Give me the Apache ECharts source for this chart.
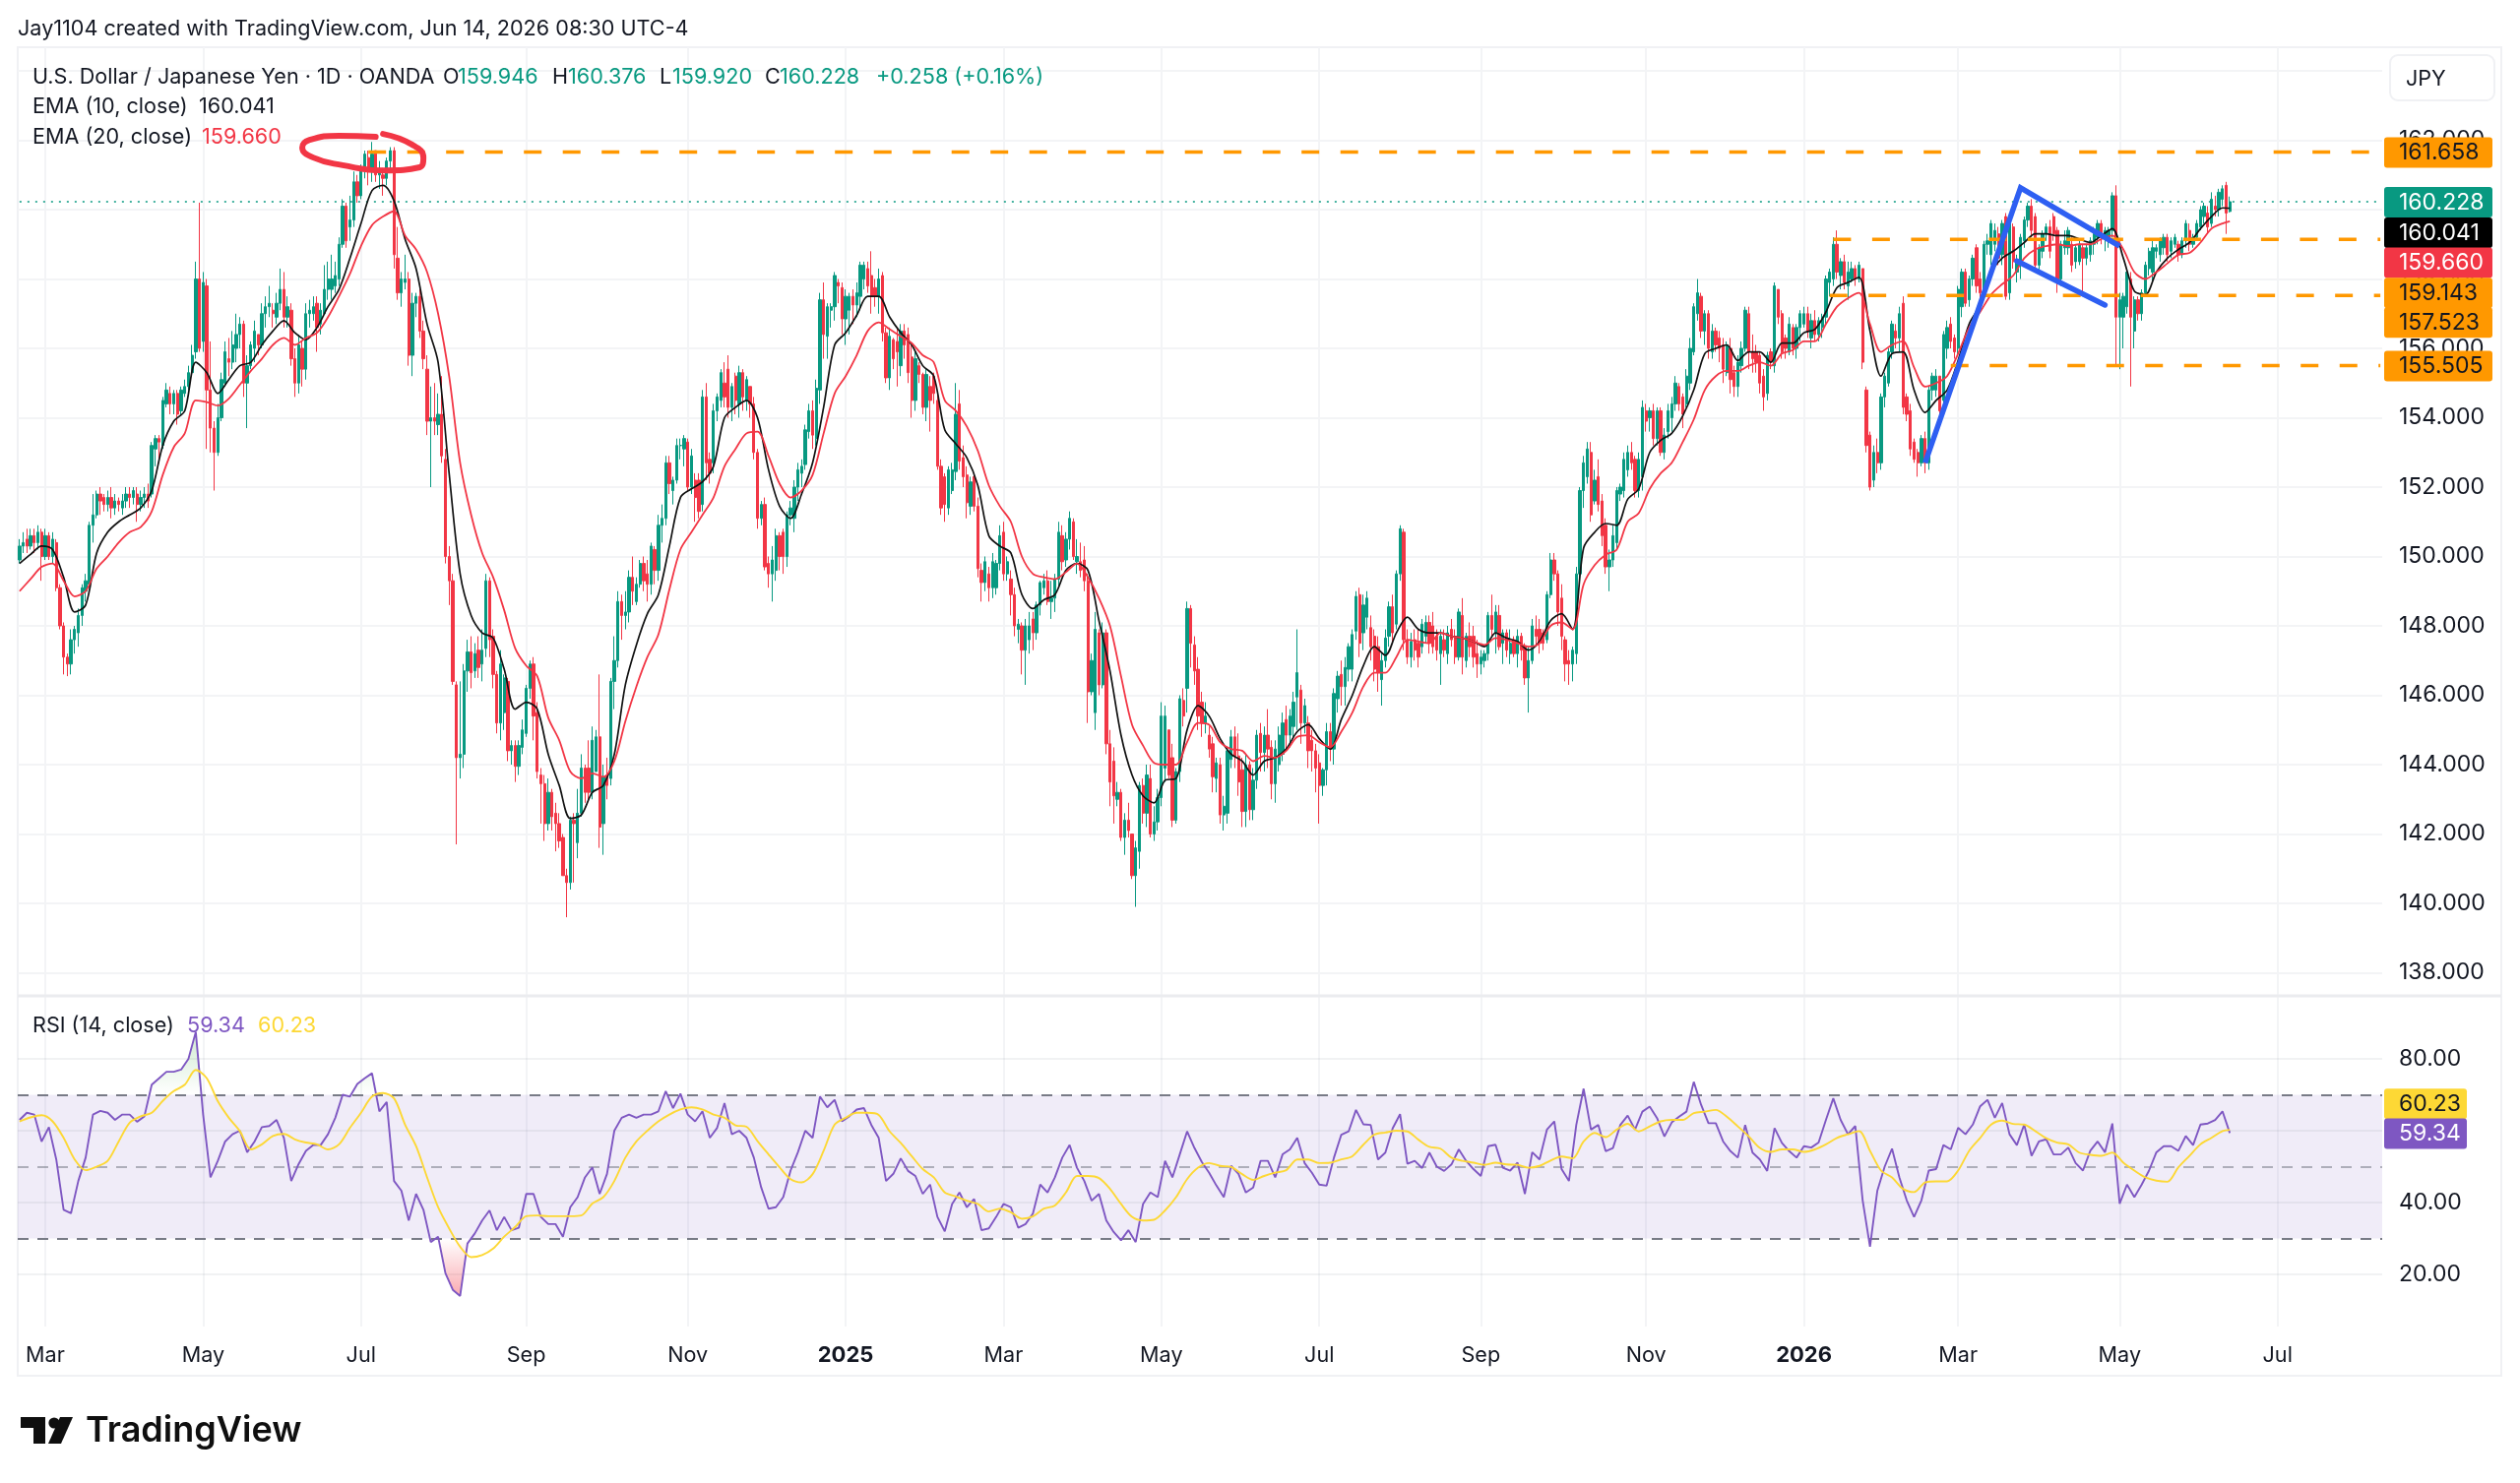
<!DOCTYPE html>
<html><head><meta charset="utf-8"><style>html,body{margin:0;padding:0;background:#fff}#c{width:2560px;height:1507px}</style>
<script src="https://cdn.jsdelivr.net/npm/echarts@6/dist/echarts.min.js"></script></head><body><div id="c"></div>
<script>
const firstDate='2024-02-21', categoryCount=644;
const tickDates=['2024-03-01','2024-05-01','2024-07-01','2024-09-02','2024-11-01','2025-01-01','2025-03-03','2025-05-01','2025-07-01','2025-09-01','2025-11-03','2026-01-01','2026-03-02','2026-05-01','2026-07-01'];
const tickLabels=['Mar','May','Jul','Sep','Nov','2025','Mar','May','Jul','Sep','Nov','2026','Mar','May','Jul'];
const closes=[
150.3,150.4,150.3,150.6,150.4,150.7,150.0,150.6,150.0,150.5,
149.1,148.0,147.1,146.9,147.6,147.9,148.3,149.1,149.3,150.9,
151.2,151.8,151.6,151.5,151.7,151.4,151.6,151.5,151.6,151.8,
151.7,151.9,151.5,151.7,151.8,151.6,153.2,153.4,153.3,154.5,
154.8,154.4,154.7,154.1,154.8,154.9,155.3,155.8,158.0,156.0,
157.9,154.8,153.7,153.0,154.0,155.1,155.9,155.6,156.1,156.4,
156.7,155.0,155.5,156.1,156.5,156.1,157.0,157.2,157.3,157.0,
157.3,157.7,156.9,157.2,155.7,155.0,156.1,155.4,157.0,157.1,
157.2,156.6,157.1,157.7,158.0,158.0,158.1,159.0,160.1,159.1,
159.7,160.8,160.4,161.2,161.6,161.1,161.6,161.0,161.1,160.9,
161.4,161.7,158.7,157.6,158.0,158.0,155.8,157.3,157.5,156.5,
155.7,153.9,154.0,153.9,154.1,152.9,150.0,149.3,146.4,144.2,
144.3,146.7,147.25,146.65,147.2,146.8,147.3,149.3,147.6,146.6,
145.2,146.9,146.5,144.4,144.55,143.95,144.55,145.0,146.2,146.9,
145.4,143.8,143.45,142.3,143.2,142.5,142.3,141.8,140.8,140.6,
142.4,142.3,142.6,143.9,143.2,143.2,144.7,144.8,142.2,143.65,
143.4,146.4,147.0,148.7,148.3,148.4,149.4,149.0,149.2,149.8,
149.3,149.2,150.3,149.6,150.9,151.1,152.7,152.1,152.2,153.2,
153.2,153.4,152.0,152.9,151.7,151.3,154.6,152.7,152.4,154.2,
154.6,155.3,154.6,154.3,154.9,154.5,155.3,154.6,155.1,154.4,
153.0,151.1,151.5,149.7,149.5,149.9,150.6,150.0,150.0,151.2,
151.4,152.0,152.5,152.6,153.65,154.2,153.5,154.85,157.4,156.4,
157.2,157.2,158.1,157.8,156.85,157.5,157.5,157.25,157.6,158.4,
158.4,157.8,157.5,157.5,158.0,156.45,155.15,156.35,155.7,155.9,
156.5,156.1,155.3,154.5,155.7,155.25,154.3,155.25,154.5,154.7,
152.6,151.4,151.5,152.5,152.5,154.1,152.75,152.3,151.55,152.15,
151.45,149.65,149.25,149.85,149.1,149.85,149.8,150.6,149.5,149.85,
148.9,148.0,148.05,147.3,148.0,148.0,147.8,148.6,149.25,149.3,
148.7,148.8,149.35,150.7,149.85,150.5,151.1,150.0,150.0,149.6,
149.3,146.1,147.0,147.9,146.3,147.8,144.6,143.5,143.1,143.2,
141.9,142.4,142.1,140.8,141.6,143.4,142.6,143.7,142.0,142.35,
143.05,145.4,145.4,143.7,142.4,143.8,145.9,145.4,148.5,147.5,
146.7,145.4,145.2,145.4,144.45,143.65,144.05,142.55,142.8,144.4,
144.8,144.25,143.5,142.65,144.0,142.7,143.55,144.85,144.35,144.85,
144.45,143.45,144.45,144.85,145.2,144.85,145.4,145.8,146.65,145.2,
145.7,144.4,144.4,143.9,143.4,143.85,144.95,144.45,146.05,146.55,
146.25,146.8,147.4,147.75,148.85,147.5,148.6,148.8,147.4,146.75,
146.65,147.0,147.65,148.55,147.8,149.5,150.8,147.6,147.1,147.55,
147.3,147.1,148.05,148.1,147.5,147.4,147.3,147.7,147.3,147.8,
147.6,147.1,148.4,147.1,147.7,147.4,147.1,146.9,147.1,147.2,
148.3,147.9,148.4,147.4,147.8,147.3,147.5,147.2,147.7,147.3,
146.5,147.0,148.0,147.7,147.5,147.5,148.9,149.9,149.5,148.4,
147.7,146.9,146.9,147.3,149.5,151.9,152.7,153.1,151.2,152.2,
151.5,150.6,149.7,149.9,150.6,151.9,152.0,152.8,153.0,152.7,
151.9,152.8,154.3,153.9,154.2,153.4,154.2,153.0,153.5,154.2,
154.4,155.0,154.4,154.1,155.2,156.0,157.2,157.6,156.5,157.0,
156.0,156.5,156.1,156.0,155.4,156.1,155.1,154.9,155.6,156.0,
157.1,155.9,155.7,155.6,155.0,154.6,155.8,155.6,157.8,156.9,
155.9,156.0,156.7,156.0,156.6,157.0,157.0,156.5,156.8,156.4,
156.8,156.9,158.0,158.2,159.0,158.2,158.5,157.9,158.2,158.3,
158.0,158.4,155.6,153.2,152.0,153.0,152.7,154.6,155.2,155.9,
156.7,156.3,157.0,154.3,154.1,153.1,152.8,152.7,153.4,152.7,
154.8,155.2,155.2,154.2,156.4,156.6,156.2,155.9,157.7,158.2,
157.3,158.0,158.6,157.8,157.6,159.0,159.1,159.6,159.4,158.6,
159.6,157.5,159.7,158.5,158.5,159.2,159.7,160.1,159.4,158.4,
158.9,159.3,159.5,158.8,159.3,157.9,159.0,159.1,159.4,158.4,
158.9,159.0,158.6,158.9,159.1,159.3,159.6,159.2,159.4,159.4,
160.4,156.9,157.4,157.5,158.2,156.9,157.4,157.0,157.6,158.4,
158.8,158.9,158.9,159.1,159.2,158.7,159.1,159.2,158.7,159.1,
159.6,159.0,159.2,159.6,160.0,160.1,159.5,160.3,160.0,160.5,
160.6,159.9,160.228];
const opens=[
149.9,150.3,150.5,150.3,150.6,150.4,150.7,150.0,150.6,150.0,
150.4,149.1,148.0,147.1,146.9,147.6,147.8,148.3,149.0,149.2,
150.9,151.2,151.8,151.7,151.5,151.7,151.4,151.6,151.4,151.6,
151.8,151.7,151.8,151.5,151.7,151.8,151.8,153.1,153.4,153.2,
154.4,154.7,154.4,154.7,154.2,154.7,154.9,155.3,155.9,158.0,
156.2,157.8,154.8,153.7,153.0,154.0,155.0,155.7,155.6,156.0,
156.4,156.7,155.0,155.5,156.0,156.4,156.1,157.0,157.2,157.1,
156.9,157.3,157.7,156.9,157.1,155.7,155.0,156.0,155.4,157.0,
157.0,157.3,156.7,157.0,157.7,157.7,157.8,158.0,159.0,160.1,
159.5,159.7,160.8,160.4,161.2,161.5,161.1,161.7,161.0,161.0,
160.9,161.4,161.7,158.6,157.6,157.9,158.0,155.8,157.3,157.5,
156.5,155.4,153.9,154.0,153.8,154.1,152.8,150.0,149.3,146.3,
144.2,144.3,146.7,147.25,146.7,147.3,146.9,147.35,149.3,147.7,
146.6,145.2,145.5,146.4,144.4,144.55,143.95,144.5,144.9,146.2,
146.9,145.5,143.7,143.45,142.3,143.2,142.6,142.3,141.9,140.8,
140.6,142.4,141.75,142.6,143.9,143.9,143.2,143.8,144.8,142.3,
143.65,143.6,146.4,147.0,148.7,148.3,148.4,149.4,148.7,149.2,
149.8,149.5,149.2,150.2,149.6,150.9,151.1,152.7,151.9,152.2,
153.2,153.1,153.3,152.0,152.2,152.2,151.5,154.6,152.8,152.7,
154.2,154.5,155.0,155.4,154.3,155.2,154.4,155.3,154.5,154.9,
154.4,153.0,151.1,151.5,149.8,149.5,149.6,150.6,150.7,150.0,
151.2,151.1,152.0,152.4,152.65,153.6,154.2,153.4,154.8,157.4,
156.35,157.1,157.2,157.9,157.75,156.85,157.1,157.5,157.25,157.5,
158.0,158.3,158.1,157.75,157.5,158.1,156.45,155.15,156.25,156.2,
155.5,156.5,156.4,155.75,154.5,155.5,155.25,154.3,154.9,155.2,
154.5,152.6,152.3,151.4,151.9,152.45,154.4,152.85,152.35,151.45,
152.3,151.45,149.6,149.25,149.5,149.1,149.1,149.8,150.7,149.5,
149.35,148.9,147.9,148.0,147.3,147.6,148.2,147.8,148.6,149.1,
149.3,148.7,148.8,149.35,150.6,149.9,150.5,151.0,149.85,149.85,
149.9,149.3,146.1,145.5,147.8,146.3,147.8,144.6,144.1,143.0,
143.2,141.9,142.4,142.0,140.8,141.5,143.4,142.6,143.6,142.0,
142.35,143.05,143.9,145.0,144.2,142.4,143.8,145.85,146.2,148.5,
147.45,146.75,145.8,145.2,144.85,144.6,143.6,144.0,142.55,142.6,
144.15,144.8,144.25,143.85,142.65,144.0,142.7,143.55,144.9,144.35,
144.85,144.5,143.45,144.0,144.3,145.3,144.85,145.1,145.95,146.15,
145.2,145.2,144.7,144.4,144.05,143.4,143.85,144.95,144.45,145.9,
146.6,146.25,146.75,146.75,147.85,148.9,147.8,148.25,147.95,147.7,
147.4,146.45,147.0,147.7,148.55,148.05,149.5,150.7,147.6,147.1,
147.6,147.5,147.4,147.7,148.1,148.0,147.7,147.2,147.6,147.2,
147.9,147.7,147.1,148.3,147.0,147.7,147.7,147.2,146.9,147.0,
147.2,148.3,147.8,148.3,147.5,147.8,147.2,147.6,147.2,147.7,
147.4,146.5,147.0,147.9,147.9,147.8,147.6,148.9,149.9,149.5,
148.8,147.6,147.0,146.9,147.2,149.5,151.9,152.3,153.0,151.6,
152.3,151.6,150.9,149.7,149.9,150.4,151.8,151.9,152.5,153.0,
152.8,151.9,152.3,154.2,154.0,154.2,153.4,154.2,153.0,153.6,
154.0,154.4,154.9,154.6,154.4,155.0,155.9,157.0,157.5,156.5,
157.0,155.9,156.5,156.3,156.1,155.3,156.0,155.3,154.9,155.5,
156.0,157.0,155.9,155.9,155.8,155.2,154.7,155.9,155.5,157.7,
157.0,156.3,155.9,156.6,156.0,156.6,156.7,157.0,156.3,156.8,
156.4,156.6,156.9,157.9,158.0,159.0,158.1,158.5,157.8,158.0,
158.3,158.0,158.3,154.8,153.5,152.2,153.0,152.7,154.6,155.0,
155.9,156.5,156.3,157.3,154.6,154.2,153.3,153.0,152.7,153.4,
152.7,154.8,154.8,155.2,154.5,156.0,156.7,156.3,156.0,157.2,
158.2,157.4,158.0,158.9,158.0,157.7,159.0,158.7,159.0,159.3,
158.7,159.8,157.6,159.5,158.2,158.4,159.1,159.7,160.1,159.8,
158.4,158.8,159.3,159.5,159.8,159.4,158.0,158.9,158.9,159.0,
158.5,158.5,158.9,158.6,158.7,159.0,159.2,159.6,159.2,159.2,
159.4,160.4,156.9,156.9,157.2,158.0,156.5,157.4,157.0,157.6,
158.3,158.2,158.8,158.7,158.9,159.2,158.8,159.0,159.0,158.7,
159.1,159.4,159.0,159.2,159.5,159.8,159.9,159.6,160.1,160.0,
160.3,160.7,159.946];
const highs=[
150.5,150.7,150.8,150.8,150.8,150.9,150.8,150.8,150.7,150.7,
150.5,149.2,148.1,147.2,147.9,148.0,148.5,149.2,149.5,151.0,
151.8,151.9,152.0,151.8,151.9,152.0,151.8,151.7,151.8,152.0,
152.0,152.0,152.0,151.9,152.0,152.1,153.3,153.5,153.5,154.6,
155.0,154.9,154.8,154.8,154.9,155.1,155.5,156.1,158.5,160.2,
158.2,158.0,156.2,153.9,154.4,155.3,156.2,156.3,156.5,157.0,
156.9,156.8,155.8,156.2,156.8,156.4,157.3,157.5,157.8,157.3,
157.6,158.3,158.2,157.5,157.3,156.0,156.4,156.2,157.3,157.4,
157.5,157.5,157.3,158.4,158.5,158.7,158.5,159.2,160.3,160.2,
160.4,161.1,161.0,161.3,161.7,161.7,161.95,161.7,161.4,161.2,
161.5,161.8,161.8,159.5,158.2,158.7,158.2,157.6,157.6,157.7,
156.8,155.8,154.9,155.0,154.7,155.2,153.1,150.3,149.5,146.4,
146.4,146.9,147.6,147.7,147.5,147.7,147.9,149.5,149.4,147.9,
146.7,147.3,146.6,146.5,144.7,144.7,144.7,145.3,146.3,147.0,
147.1,145.8,143.9,143.7,143.6,143.3,142.9,142.6,142.0,141.0,
142.5,142.6,143.3,144.3,144.0,144.7,145.1,145.0,146.6,144.0,
144.2,146.5,147.7,149.0,148.9,149.0,149.6,150.0,149.4,149.9,
150.0,149.9,150.4,150.3,151.2,151.5,152.9,152.9,152.3,153.4,
153.4,153.5,153.4,153.1,152.4,152.4,154.8,155.0,153.0,154.4,
154.7,155.4,155.6,155.8,155.0,155.3,155.5,155.4,155.2,154.9,
154.6,153.1,151.6,151.7,150.0,150.3,150.8,150.7,150.8,151.3,
151.6,152.2,152.7,152.8,153.8,154.4,154.5,155.1,157.6,157.9,
157.3,157.3,158.2,158.0,157.9,157.7,157.6,157.7,157.9,158.5,
158.5,158.5,158.8,158.0,158.3,158.2,156.6,156.6,156.3,156.6,
156.7,156.7,156.6,156.1,155.9,155.6,155.3,155.4,155.2,155.3,
154.7,152.8,152.4,152.6,152.7,155.0,154.8,153.2,152.6,152.3,
152.4,151.7,149.8,150.0,149.7,150.1,149.9,150.9,151.0,150.0,
149.6,149.1,148.2,148.1,148.2,148.4,148.4,148.7,149.3,149.5,
149.6,149.3,149.5,151.0,150.9,150.7,151.3,151.1,150.5,150.4,
150.3,149.5,147.2,148.4,147.9,148.1,147.9,145.0,144.5,143.5,
143.3,142.6,142.9,142.0,141.8,143.5,143.6,144.0,144.0,142.8,
143.3,145.8,145.7,145.0,144.6,143.9,146.0,146.2,148.7,148.6,
147.7,147.1,146.1,145.8,145.1,144.8,144.2,144.2,143.1,144.5,
145.0,145.1,144.9,144.2,144.3,144.1,143.9,145.0,145.2,145.1,
145.6,144.7,144.7,145.1,145.5,145.7,145.6,146.1,147.9,146.3,
145.9,145.4,145.0,144.6,144.3,143.9,145.2,145.2,146.2,146.7,
147.0,147.1,147.5,147.9,149.0,149.1,148.9,149.0,148.3,147.9,
147.7,147.2,147.9,148.7,148.9,149.6,150.9,150.8,147.9,147.8,
147.9,147.9,148.2,148.3,148.3,148.4,147.9,147.9,147.9,148.0,
148.2,147.9,148.5,148.8,147.8,148.1,148.0,147.6,147.3,147.3,
148.4,148.9,148.6,148.6,147.9,147.9,147.9,147.7,147.9,147.8,
147.5,147.4,148.2,148.3,148.2,147.9,149.0,150.1,150.1,149.6,
149.2,147.7,147.3,147.4,149.7,152.0,152.9,153.3,153.3,152.5,
152.8,151.8,151.1,150.2,150.9,152.0,152.1,153.0,153.2,153.3,
152.9,153.0,154.5,154.4,154.3,154.4,154.3,154.3,153.7,154.4,
154.6,155.2,155.0,154.7,155.4,156.3,157.3,158.0,157.6,157.1,
157.1,156.7,156.6,156.5,156.3,156.2,156.3,155.5,155.8,156.2,
157.2,157.2,156.4,156.1,155.9,155.4,155.9,156.0,157.9,157.7,
157.1,156.4,156.9,156.7,156.7,157.1,157.2,157.2,157.0,157.1,
156.9,157.0,158.1,158.3,159.2,159.4,158.6,158.7,158.5,158.5,
158.4,158.5,158.3,154.9,153.6,153.2,153.4,154.7,155.3,156.0,
156.8,156.7,157.2,157.5,154.7,154.4,153.4,153.1,153.5,153.6,
154.9,155.3,155.4,155.2,156.5,156.8,156.9,156.4,157.8,158.3,
158.3,158.1,158.7,159.0,158.2,159.1,159.3,159.7,159.6,159.5,
159.7,159.9,159.8,159.6,158.7,159.3,159.8,160.2,160.3,159.9,
159.0,159.4,159.6,159.7,159.9,159.5,159.1,159.4,159.5,159.2,
159.0,159.1,159.0,159.0,159.2,159.5,159.7,159.7,159.5,159.5,
160.5,160.7,157.6,157.6,158.3,158.2,157.5,157.5,157.7,158.5,
158.9,159.1,159.0,159.2,159.3,159.3,159.2,159.3,159.1,159.2,
159.7,159.6,159.3,159.7,160.1,160.2,160.1,160.5,160.4,160.6,
160.7,160.8,160.376];
const lows=[
149.8,150.1,150.1,150.2,150.1,150.2,149.3,149.9,149.9,149.8,
149.0,147.9,146.6,146.55,146.6,147.2,147.4,148.0,148.7,149.1,
150.4,151.1,151.2,151.3,151.3,151.1,151.2,151.3,151.2,151.4,
151.4,151.5,151.0,151.3,151.4,151.4,151.7,152.6,152.7,153.1,
154.3,154.1,154.1,153.8,154.1,154.6,154.8,155.2,155.7,155.9,
155.9,153.1,153.0,151.9,152.9,153.9,154.9,155.2,155.4,155.6,
156.0,154.6,153.7,155.4,155.6,155.8,156.0,156.6,156.9,156.6,
156.7,157.1,156.6,156.6,155.5,154.6,154.7,154.9,155.1,156.6,
156.8,155.9,156.4,157.0,157.4,157.4,157.6,157.8,158.9,158.9,
159.1,159.5,160.2,160.3,160.9,160.7,160.8,160.8,160.6,160.4,
160.7,161.1,158.3,157.4,157.2,157.7,155.5,155.2,156.9,156.3,
155.4,153.5,152.0,153.5,153.5,152.7,149.8,148.6,146.3,141.7,
143.6,143.9,146.1,146.2,146.5,146.5,146.4,147.1,147.1,146.2,
144.9,144.7,145.0,144.1,144.0,143.5,143.7,144.3,144.8,145.9,
144.7,143.6,142.3,141.8,142.1,142.1,141.5,141.6,140.8,139.6,
140.4,140.6,141.3,142.5,142.9,143.0,143.0,144.1,141.6,141.4,
143.0,143.4,145.6,146.8,147.6,147.9,148.1,148.6,148.6,149.1,
149.0,148.7,148.9,149.2,149.3,150.4,150.9,151.8,151.5,152.1,
152.8,152.6,151.9,151.8,151.0,151.1,151.3,152.2,152.1,152.4,
153.9,154.3,154.3,154.0,153.9,154.1,154.0,154.2,154.2,154.0,
152.8,150.8,150.9,149.6,149.1,148.7,149.3,149.6,149.5,149.7,
150.9,150.7,151.6,152.0,152.5,153.4,153.1,153.2,154.4,155.7,
155.7,156.6,156.8,157.3,156.4,156.1,156.4,156.7,156.9,157.1,
157.7,157.6,157.0,157.2,157.0,156.2,155.0,154.8,155.4,154.9,
155.2,155.7,155.0,154.0,154.2,155.0,154.1,153.9,153.6,154.4,
152.5,151.2,151.0,151.2,151.8,152.2,152.5,152.0,151.1,151.2,
151.3,149.4,148.7,149.0,148.7,148.8,148.9,149.6,149.3,149.3,
148.3,147.7,147.5,146.6,146.3,147.2,147.3,147.6,148.3,148.9,
148.6,148.2,148.4,149.1,149.6,149.7,150.2,149.9,149.5,149.4,
149.0,145.2,146.0,145.0,146.0,146.2,144.3,142.8,142.3,142.8,
141.8,141.4,141.9,140.7,139.9,141.0,142.3,142.2,141.9,141.8,
142.1,142.8,143.5,143.6,142.2,142.3,143.5,145.1,145.5,146.8,
146.3,145.0,144.8,144.9,144.2,143.2,143.2,142.3,142.1,142.3,
143.9,143.9,143.1,142.2,142.2,142.4,142.4,143.3,143.8,143.8,
143.9,143.0,142.9,143.8,144.1,144.4,144.5,144.8,145.0,144.6,
144.9,143.9,143.8,143.2,142.3,143.1,143.4,144.1,144.0,145.5,
145.7,145.7,146.4,146.4,147.6,147.1,147.3,147.9,147.0,146.4,
146.1,145.7,146.8,147.4,147.5,147.9,149.3,147.3,146.9,146.8,
147.0,146.8,147.2,147.5,147.2,147.2,147.0,146.3,147.1,146.9,
147.4,146.9,147.0,146.6,146.8,147.1,146.8,146.5,146.6,146.8,
147.0,147.7,147.2,147.3,146.9,147.1,146.9,147.1,146.8,147.0,
146.3,145.5,146.9,147.4,147.2,147.3,147.5,148.8,149.3,148.0,
147.3,146.4,146.3,146.4,146.9,149.3,151.4,152.1,151.0,151.5,
151.3,150.3,149.5,149.0,149.7,150.2,151.6,151.7,152.3,152.5,
151.7,151.7,151.9,153.6,153.6,153.2,153.2,152.9,152.8,153.4,
153.6,154.2,154.2,153.7,154.3,154.8,155.8,156.8,156.3,156.1,
155.7,155.7,155.9,155.6,155.0,155.2,154.7,154.6,154.6,155.3,
155.9,155.4,155.3,155.3,154.7,154.2,154.5,155.4,155.3,156.7,
155.7,155.7,155.8,155.8,155.7,156.2,156.6,156.3,156.0,156.2,
156.2,156.3,156.7,157.5,157.8,158.0,157.7,157.7,157.4,157.9,
157.8,157.9,155.4,153.0,151.9,152.0,152.4,152.5,154.3,154.9,
155.7,156.0,155.9,154.1,153.9,152.9,152.7,152.3,152.6,152.4,
152.5,154.5,154.6,154.0,154.3,155.7,156.0,155.7,155.8,156.9,
157.2,157.2,157.8,157.6,157.4,157.5,158.7,158.4,158.8,158.4,
158.4,157.4,157.4,158.3,157.9,158.0,158.9,159.5,159.2,158.2,
158.2,158.6,159.1,158.6,159.1,157.6,157.8,158.7,158.7,158.2,
158.3,158.4,157.5,158.4,158.5,158.7,159.0,159.0,158.8,158.9,
159.2,155.5,155.4,156.0,157.0,154.9,156.0,156.8,156.8,157.5,
158.1,157.9,158.6,158.5,158.7,158.5,158.6,158.9,158.5,158.6,
158.9,158.8,158.9,159.1,159.4,159.6,159.3,159.5,159.8,159.8,
160.1,159.3,159.920];
const ema10Step=3;
const ema10=[149.8,150.06,150.3,150.2,149.4,148.4,148.6,150.1,150.7,151.0,151.2,151.4,151.9,153.2,153.9,154.2,155.6,155.3,154.7,155.1,155.5,155.6,156.1,156.5,156.8,156.45,156.25,156.6,157.2,157.7,158.6,159.6,160.55,160.7,160.25,159.15,158.3,156.7,155.6,152.4,149.5,148.3,147.8,147.65,146.75,145.6,145.8,145.6,144.3,143.4,142.45,142.55,143.2,143.4,144.3,146.3,147.45,148.35,148.9,150.3,151.7,151.95,152.15,152.6,154.0,154.3,154.5,154.0,152.5,151.45,151.1,151.8,152.7,154.3,156.1,156.45,156.95,157.5,157.5,156.9,156.45,156.1,155.5,155.2,153.65,153.25,152.85,152.05,150.6,150.3,150.1,148.9,148.5,148.75,148.9,149.6,149.8,149.6,148.15,146.7,144.85,143.7,143.1,142.9,143.55,143.6,145.0,145.7,145.4,144.75,144.3,144.1,143.7,144.1,144.2,144.45,144.95,145.15,144.75,144.45,145.3,146.0,146.85,147.4,147.15,147.8,148.25,147.9,147.8,147.8,147.7,147.65,147.55,147.4,147.8,147.65,147.55,147.3,147.55,148.15,148.35,147.9,150.25,150.7,150.95,150.9,151.65,151.95,153.0,153.35,153.55,154.05,154.8,155.85,156.0,156.1,155.65,155.9,155.9,155.6,156.15,156.15,156.45,156.55,157.05,157.75,157.9,158.05,156.5,155.2,155.85,155.9,154.8,154.15,154.5,154.8,155.65,156.7,157.25,158.2,158.6,158.8,159.05,159.3,159.3,159.25,159.25,159.15,159.05,159.25,159.45,158.6,157.65,157.55,158.2,158.6,158.85,159.05,159.45,159.8,160.05];
const ema10Last=160.041;
const ema20=[149.0,149.35,149.7,149.8,149.3,148.85,149.0,149.65,150.0,150.4,150.7,150.85,151.3,152.35,153.15,153.55,154.5,154.45,154.35,154.55,154.95,155.35,155.7,156.1,156.3,156.1,156.3,156.45,156.9,157.5,158.15,158.95,159.55,159.8,159.95,159.25,158.85,158.2,157.0,155.2,152.7,151.2,150.1,149.4,148.45,147.35,146.85,146.55,145.35,144.7,143.8,143.6,143.75,143.65,144.1,145.25,146.25,147.1,147.75,149.05,150.2,150.7,151.2,151.7,152.6,153.1,153.55,153.6,152.9,152.1,151.7,151.9,152.35,153.55,154.7,155.2,155.8,156.5,156.75,156.55,156.35,156.15,155.8,155.6,154.5,154.2,153.75,153.05,152.05,151.45,151.0,150.0,149.5,149.4,149.35,149.55,149.8,149.4,148.8,148.0,146.55,145.15,144.55,144.05,144.0,144.0,144.65,145.2,145.15,144.65,144.45,144.4,144.1,144.25,144.2,144.4,144.8,144.85,144.65,144.5,144.95,145.5,146.25,146.65,146.65,147.1,147.6,147.55,147.5,147.8,147.7,147.65,147.55,147.45,147.65,147.6,147.5,147.4,147.5,148.0,148.1,147.9,149.2,149.75,150.05,150.2,151.0,151.25,151.95,152.4,152.7,153.3,153.95,154.8,155.2,155.35,155.35,155.5,155.6,155.5,155.85,155.95,156.2,156.2,156.7,157.2,157.45,157.6,156.7,155.9,156.1,156.2,155.45,154.9,155.0,155.2,155.85,156.6,157.05,157.55,157.85,158.1,158.6,158.85,158.95,159.0,158.95,159.0,159.0,159.15,159.25,158.85,158.2,158.0,158.2,158.45,158.7,158.75,159.05,159.45,159.6];
const ema20Last=159.66;
const rsiStep=2;
const rsi=[63,65,64.5,57,61,52,38,37,46,52.5,64.5,65.5,65,63,64.5,64.5,62.5,64,72.8,74.6,76.4,76.4,77,80,87.5,64.5,47,51.6,57,59,60,54,57,61,61.3,63,58,46,50.7,54.4,56,56,59,63.6,70,69.5,73,74.6,76,65.4,68,46,43.3,35,42.4,38,29,30.5,20.3,15.7,14,28.6,31.4,35,37.8,32.3,36,32.3,33,42.4,42.4,36,34,34,30.5,38.7,41.5,47,49.8,42.4,48,60,63.6,64.5,63.6,64.5,64.5,65.4,71,66.3,70.3,64.5,62.6,65.4,58,60.8,67.7,59,60,58,52.5,44.2,38.3,38.7,41.5,48.9,54,60,58,69.5,66.5,68.6,62.6,64,65.9,66.3,61.6,58,46,48,52.3,48.8,47.4,42.4,45,36,32,39.6,42.8,38.7,41,32.3,32.8,36,39.6,38.7,33,34,36.9,45,42.8,47,52.5,56,49.7,46,40.5,42.4,35,31.8,29.5,32.3,29,39.6,42.8,41.5,51.6,47,53.4,59.8,55.2,51.3,48.3,44.7,41.5,50.2,48,42.8,44.2,51.6,51.6,47,53.4,54.8,58,51,48.3,45,44.7,52.5,58.9,59.8,65.8,61.8,61.6,52,53.9,60.7,64.6,50.8,51.6,49.6,53.9,50,48.8,50.6,54.8,51.6,49.3,47.4,55.7,56.1,49.7,48.9,51.1,42.4,54,52,60.3,62.6,49.3,46,61.6,71.7,60.3,61.6,54.3,55.2,61.6,64.2,60.3,65.3,66.7,63.5,58.4,62.3,63.9,65.3,73.6,67.2,62.1,62.1,57,54.3,52.5,61.6,53.9,52,48.8,60.7,56.6,54.3,52.5,55.7,55.3,56.7,63,69,63,59,61.3,40.6,27.7,43.3,50,55,47,40.6,36,40.6,48.9,49.3,56,54.8,60.8,59,61.7,66.8,68.6,63.6,67.7,59,56,61.7,53,57,57.6,53.4,53.4,55.3,51,48.9,54.4,57,54,62,39.7,45,41.5,45,48.9,54,55.7,55.7,54.4,58.5,56,61.7,62,63,65.4,59.34];
const rsiMaStep=3;
const rsiMa=[62.6,63.7,64.3,62.6,58,52,49,50,51.6,57,62.2,64,65,68.3,71,72.8,76.9,74.6,68.2,63.6,59.9,54.8,56.2,58.5,59.1,57.6,56.7,56.2,54.8,56.2,60.8,65,69.5,70.5,69,61.7,55.7,47,38.7,32.8,27.7,24.8,25.4,27.2,30.5,33.2,36.2,36.4,36.2,36.2,36.2,36.4,39.7,41.5,46,52.5,57,60,62.6,64.5,65.9,66.5,65.9,64.5,63.6,61.5,61.1,57.1,53.4,49.8,46.5,45.6,47.9,54.4,61.7,63.6,65,65,64.4,59.8,56.6,52.9,49.3,47,42.8,41.7,40.5,39.6,37.5,38.3,37.3,35.5,36.1,38.3,39.2,42.8,47.4,47.4,46.8,43.8,39.6,36,35,35.2,37.8,41.5,46.5,49.7,51,50.2,49.9,47.9,46.3,47.4,48.3,49,52,52,51,51.1,52,52.9,56.1,58.9,59.5,60,59.8,57.5,55.5,55,52.5,51.6,51.1,50.5,51.1,50.6,50.5,49.7,50.2,51.7,52.8,52.3,57,59.4,58.2,60.3,61.9,59.8,61.2,62.6,63,63,64.9,65.3,65.8,63.9,61.2,58.4,55.2,54.1,54.8,54.8,54.1,54.8,56.2,58,59,59.9,54.4,48.9,47,43.8,42.9,45.6,45.9,45.9,48.9,54.4,58,61.7,62.8,61.9,61.7,59.9,57.9,56.7,56.2,53.9,53.3,53,53.9,51.1,48.9,47,46.1,45.8,49.8,53,56.2,58,59.9];
const rsiMaLast=60.23;
const lastPrice=160.228;
const priceLevels=[161.658,159.143,157.523,155.505];
const levelStarts=[95,494,493,526];
const flagRiseBars=[519,545,572], flagRisePrices=[152.7,160.63,158.95];
const flagLowBars=[544,568], flagLowPrices=[158.52,157.25];
const circleBars=[97,87,79,77,80,88,99,109,110,107,99], circlePrices=[162.1,162.13,162.01,161.79,161.5,161.28,161.13,161.22,161.5,161.87,162.18];
const rsiLevels=[70,50,30], rsiGridValues=[20,40,60,80];
const priceBadgeText=['161.658','160.228','160.041','159.660','159.143','157.523','155.505'];
const rsiBadgeText=['60.23','59.34'];

const UP='#089981',DOWN='#f23645',ORANGE='#ff9800',PURPLE='#7e57c2',YELLOW='#fdd835',INK='#131722',GRID='#f3f4f6',BLUE='#2e5ff2';
const FONT='Inter, "Liberation Sans", sans-serif';
const categories=[];
for(let t=Date.UTC(+firstDate.slice(0,4),+firstDate.slice(5,7)-1,+firstDate.slice(8,10));categories.length<categoryCount;t+=864e5){
  const d=new Date(t);const w=d.getUTCDay();if(w>0&&w<6)categories.push(d.toISOString().slice(0,10));
}
const tickMap=new Map();tickDates.forEach((d,i)=>tickMap.set(categories.indexOf(d),tickLabels[i]));
const isTick=i=>tickMap.has(i);
const candleData=closes.map((c,i)=>{const o=opens[i];return [o,c,Math.min(lows[i],o,c),Math.max(highs[i],o,c)];});
const lastBar=closes.length-1,lastCat=categoryCount-1;
const sample=(vals,step,last)=>{const a=vals.map((v,i)=>[i*step,v]);if(last!=null&&a[a.length-1][0]<lastBar)a.push([lastBar,last]);return a;};
const ema10Data=sample(ema10,ema10Step,ema10Last),ema20Data=sample(ema20,ema10Step,ema20Last);
const rsiData=sample(rsi,rsiStep),rsiMaData=sample(rsiMa,rsiMaStep,rsiMaLast);
const zip=(a,b)=>a.map((x,i)=>[x,b[i]]);
const lineBase=(x,y)=>({type:'line',xAxisIndex:x,yAxisIndex:y,symbol:'none',animation:false,silent:true});
const series=[
 {type:'candlestick',name:'USDJPY',xAxisIndex:0,yAxisIndex:0,data:candleData,barWidth:2.8,large:false,progressive:0,animation:false,silent:true,z:3,
  itemStyle:{color:UP,color0:DOWN,borderColor:UP,borderColor0:DOWN,borderWidth:1}},
 Object.assign(lineBase(0,0),{name:'last',z:2,data:[[0,lastPrice],[lastCat,lastPrice]],lineStyle:{color:UP,width:1.6,type:[2,6]}}),
 Object.assign(lineBase(0,0),{name:'EMA 10',z:5,smooth:0.3,data:ema10Data,lineStyle:{color:'#111',width:1.7}}),
 Object.assign(lineBase(0,0),{name:'EMA 20',z:5,smooth:0.3,data:ema20Data,lineStyle:{color:DOWN,width:1.8}}),
 ...priceLevels.map((v,i)=>Object.assign(lineBase(0,0),{name:'level'+i,z:6,data:[[levelStarts[i],v],[lastCat,v]],lineStyle:{color:ORANGE,width:3.4,type:[18,21.5]}})),
 Object.assign(lineBase(0,0),{name:'flag',z:7,data:zip(flagRiseBars,flagRisePrices),lineStyle:{color:BLUE,width:5.5,join:'miter'}}),
 Object.assign(lineBase(0,0),{name:'flag low',z:7,data:zip(flagLowBars,flagLowPrices),lineStyle:{color:BLUE,width:5.5,cap:'round'}}),
 Object.assign(lineBase(0,0),{name:'circle',z:8,smooth:0.5,data:zip(circleBars,circlePrices),lineStyle:{color:DOWN,width:6,cap:'round'}}),
 {type:'custom',name:'price badges',xAxisIndex:0,yAxisIndex:0,z:20,silent:true,animation:false,clip:false,
  data:priceBadgeText.map(t=>[0,+t]),
  renderItem(p,api){
    const shifts=[0,0,24.5,41.5,54,27,0],fills=[ORANGE,UP,'#000',DOWN,ORANGE,ORANGE,ORANGE],inks=[INK,'#fff','#fff','#fff',INK,INK,INK];
    const i=p.dataIndex,y=api.coord([0,api.value(1)])[1]+shifts[i],x=p.coordSys.x+p.coordSys.width+2;
    return {type:'group',children:[
      {type:'rect',shape:{x,y:y-15,width:110,height:31,r:3},style:{fill:fills[i]}},
      {type:'text',style:{x:x+15,y:y+1,text:priceBadgeText[i],fill:inks[i],fontFamily:FONT,fontSize:23,textVerticalAlign:'middle'}}]};
  }},
 Object.assign(lineBase(1,1),{name:'over',z:2,data:rsiData.map(([x,v])=>[x,Math.max(v,70)]),lineStyle:{width:0,opacity:0},
   areaStyle:{origin:70,color:new echarts.graphic.LinearGradient(0,0,0,1,[{offset:0,color:'rgba(76,175,80,.38)'},{offset:1,color:'rgba(76,175,80,0)'}])}}),
 Object.assign(lineBase(1,1),{name:'under',z:2,data:rsiData.map(([x,v])=>[x,Math.min(v,30)]),lineStyle:{width:0,opacity:0},
   areaStyle:{origin:30,color:new echarts.graphic.LinearGradient(0,0,0,1,[{offset:0,color:'rgba(242,54,69,0)'},{offset:1,color:'rgba(242,54,69,.6)'}])}}),
 Object.assign(lineBase(1,1),{name:'RSI',z:4,data:rsiData,lineStyle:{color:PURPLE,width:1.9},
   markArea:{silent:true,animation:false,itemStyle:{color:'rgba(126,87,194,0.115)'},data:[[{yAxis:70},{yAxis:30}]]},
   markLine:{silent:true,animation:false,symbol:'none',label:{show:false},z:1,
     data:rsiGridValues.map(v=>({yAxis:v,lineStyle:{color:'rgba(120,123,134,.1)',width:2,type:'solid'}})).concat(
       rsiLevels.map(v=>({yAxis:v,lineStyle:{color:v===50?'rgba(120,123,134,.55)':'#787b86',width:2,type:[11,9]}})))}}),
 Object.assign(lineBase(1,1),{name:'RSI MA',z:5,smooth:0.3,data:rsiMaData,lineStyle:{color:YELLOW,width:1.9}}),
 {type:'custom',name:'rsi badges',xAxisIndex:1,yAxisIndex:1,z:20,silent:true,animation:false,clip:false,
  data:rsiBadgeText.map(t=>[0,+t]),
  renderItem(p,api){
    const shifts=[-27,0],fills=['#fdd835',PURPLE],inks=[INK,'#fff'];
    const i=p.dataIndex,y=api.coord([0,api.value(1)])[1]+shifts[i],x=p.coordSys.x+p.coordSys.width+2;
    return {type:'group',children:[
      {type:'rect',shape:{x,y:y-15,width:84,height:31,r:3},style:{fill:fills[i]}},
      {type:'text',style:{x:x+15,y:y+1,text:rsiBadgeText[i],fill:inks[i],fontFamily:FONT,fontSize:23,textVerticalAlign:'middle'}}]};
  }},
 Object.assign(lineBase(2,2),{name:'frame',data:[]})
];
const txt=(text,x,y,fill,opt)=>({type:'text',z:30,silent:true,style:Object.assign({text,x,y,fill,fontFamily:FONT,fontSize:21.6,textVerticalAlign:'middle'},opt||{})});
const graphicEls=[
 {type:'rect',z:0,silent:true,shape:{x:18,y:48,width:2523,height:1350},style:{fill:'none',stroke:'#f0f1f4',lineWidth:2}},
 {type:'line',z:1,silent:true,shape:{x1:18,y1:1012,x2:2541,y2:1012},style:{stroke:'#ebecef',lineWidth:3}},
 {type:'rect',z:30,silent:true,shape:{x:2428,y:56,width:106,height:46,r:8},style:{fill:'#fff',stroke:'#f0f1f4',lineWidth:2}},
 txt('JPY',2444,80,INK),
 txt('Jay1104 created with TradingView.com, Jun 14, 2026 08:30 UTC-4',18,29,INK),
 txt('U.S. Dollar / Japanese Yen · 1D · OANDA',33,78,INK),
 txt('O',450,78,INK),txt('159.946',465,78,UP),
 txt('H',561,78,INK),txt('160.376',577,78,UP),
 txt('L',670,78,INK),txt('159.920',683,78,UP),
 txt('C',777,78,INK),txt('160.228',792,78,UP),
 txt('+0.258 (+0.16%)',890,78,UP),
 txt('EMA (10, close)',33,108,INK),txt('160.041',202,108,INK),
 txt('EMA (20, close)',33,139,INK),txt('159.660',205,139,DOWN),
 txt('RSI (14, close)',33,1042,INK),txt('59.34',190,1042,PURPLE),txt('60.23',262,1042,YELLOW),
 {type:'polygon',z:30,silent:true,shape:{points:[[21,1440],[46,1440],[46,1467],[34,1467],[34,1451],[21,1451]]},style:{fill:'#0f0f0f'}},
 {type:'circle',z:30,silent:true,shape:{cx:55,cy:1446,r:5.6},style:{fill:'#0f0f0f'}},
 {type:'polygon',z:30,silent:true,shape:{points:[[61,1440],[74,1440],[62,1467],[49,1467]]},style:{fill:'#0f0f0f'}},
 txt('TradingView',87,1454,'#0f0f0f',{fontSize:36,fontWeight:600})
];
const hiddenX=i=>({type:'category',gridIndex:i,data:categories,show:false,boundaryGap:true});
const opt={
 animation:false,backgroundColor:'#fff',
 grid:[{left:18,top:72,width:2402,height:916.5},{left:18,top:1039.5,width:2402,height:292},{left:18,top:48,width:2402,height:1300}],
 xAxis:[hiddenX(0),hiddenX(1),
  {type:'category',gridIndex:2,data:categories,boundaryGap:true,axisLine:{show:false},
   axisTick:{show:false,alignWithLabel:true,interval:isTick},
   splitLine:{show:true,alignWithLabel:true,interval:isTick,lineStyle:{color:GRID,width:2}},
   axisLabel:{show:true,interval:isTick,margin:18,color:INK,fontFamily:FONT,fontSize:21.6,
     formatter:(v,i)=>{const l=tickMap.get(i);return /^\d/.test(l||'')?'{b|'+l+'}':(l||'');},
     rich:{b:{fontFamily:FONT,fontSize:22,fontWeight:700,color:INK}}}}],
 yAxis:[
  {type:'value',gridIndex:0,position:'right',min:138,max:164,interval:2,axisLine:{show:false},axisTick:{show:false},
   splitLine:{show:true,lineStyle:{color:GRID,width:2}},
   axisLabel:{margin:17,align:'left',padding:[2,0,0,0],color:INK,fontFamily:FONT,fontSize:23,formatter:v=>v===164?'':v.toFixed(3)}},
  {type:'value',gridIndex:1,position:'right',min:10,max:90,interval:10,axisLine:{show:false},axisTick:{show:false},splitLine:{show:false},
   axisLabel:{margin:17,align:'left',padding:[2,0,0,0],color:INK,fontFamily:FONT,fontSize:23,formatter:v=>rsiGridValues.includes(v)?v.toFixed(2):''}},
  {type:'value',gridIndex:2,show:false,min:0,max:1}],
 series,
 graphic:{elements:graphicEls}
};
echarts.init(document.getElementById('c'),null,{renderer:'canvas',width:2560,height:1507}).setOption(opt);
</script></body></html>
